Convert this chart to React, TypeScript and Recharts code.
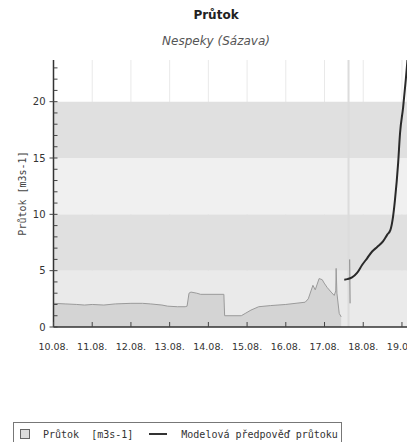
import React from 'react';
import {
  ComposedChart, Area, Line, XAxis, YAxis, CartesianGrid, ReferenceArea, ReferenceLine, Legend,
} from 'recharts';

// x = days since 10.08. 00:00
const flowX = [0, 0.3, 0.6, 0.8, 1.0, 1.3, 1.6, 2.0, 2.3, 2.5, 2.8, 2.95, 3.2, 3.4, 3.45, 3.5, 3.55, 3.7, 3.8, 4.4, 4.42, 4.85, 4.95, 5.1, 5.3, 5.6, 6.0, 6.5, 6.58, 6.65, 6.7, 6.76, 6.81, 6.86, 6.94, 6.99, 7.07, 7.17, 7.25, 7.29, 7.3, 7.32, 7.38, 7.43];
const flowY = [2.1, 2.05, 2.0, 1.95, 2.0, 1.95, 2.05, 2.1, 2.1, 2.05, 1.95, 1.85, 1.8, 1.8, 1.85, 3.0, 3.1, 3.0, 2.9, 2.9, 1.0, 1.0, 1.2, 1.5, 1.8, 1.9, 2.0, 2.2, 2.5, 3.2, 3.7, 3.3, 3.8, 4.3, 4.2, 3.9, 3.5, 3.1, 2.8, 3.2, 5.2, 3.0, 1.2, 0.9];

const modelX = [7.51, 7.59, 7.71, 7.84, 7.97, 8.1, 8.23, 8.36, 8.51, 8.62, 8.7, 8.77, 8.82, 8.9, 8.95, 9.03, 9.1, 9.15];
const modelY = [4.2, 4.25, 4.4, 4.8, 5.5, 6.1, 6.7, 7.1, 7.6, 8.2, 8.6, 9.8, 11.3, 14.5, 17.2, 19.5, 22, 24];

const spikeX = [7.65, 7.66];
const spikeY = [6.0, 2.1];

const dayTicks = [0, 1, 2, 3, 4, 5, 6, 7, 8, 9];
const dayLabels = ['10.08.', '11.08.', '12.08.', '13.08.', '14.08.', '15.08.', '16.08.', '17.08.', '18.08.', '19.08.'];
const yTicks = Array.from({ length: 24 }, (_, i) => i);
const bands = [
  { y1: 0, y2: 5, fill: '#eaeaea' },
  { y1: 5, y2: 10, fill: '#e0e0e0' },
  { y1: 10, y2: 15, fill: '#f0f0f0' },
  { y1: 15, y2: 20, fill: '#e0e0e0' },
];
const nowDay = 7.62;

const flowData = flowX.map((x, i) => ({ x, v: flowY[i] }));
const modelData = modelX.map((x, i) => ({ x, v: modelY[i] }));
const spikeData = spikeX.map((x, i) => ({ x, v: spikeY[i] }));

const YTick = (props: any) => {
  const { x, y, payload } = props;
  const major = payload.value % 5 === 0;
  return (
    <g>
      <line x1={major ? x - 4 : x} x2={x + 4} y1={y} y2={y} stroke="#444" strokeWidth={1} />
      {major && (
        <text x={x - 8} y={y} dy={3.5} textAnchor="end" fontSize={10} fill="#333" fontFamily="DejaVu Sans, sans-serif">
          {payload.value}
        </text>
      )}
    </g>
  );
};

const XTick = (props: any) => {
  const { x, y, payload } = props;
  return (
    <g>
      <line x1={x} x2={x} y1={y - 5} y2={y} stroke="#444" strokeWidth={1} />
      <text x={x} y={y + 23} textAnchor="middle" fontSize={9.5} fill="#333" fontFamily="DejaVu Sans, sans-serif">
        {dayLabels[payload.value]}
      </text>
    </g>
  );
};

const LegendBox = () => (
  <div
    style={{
      position: 'absolute', left: 13, top: 422, width: 329, height: 24,
      border: '1px solid #777', boxSizing: 'border-box', display: 'flex', alignItems: 'center',
      fontFamily: 'DejaVu Sans Mono, monospace', fontSize: 10, color: '#333', whiteSpace: 'pre',
    }}
  >
    <span style={{ display: 'inline-block', width: 8, height: 8, border: '1px solid #666', background: '#dcdcdc', marginLeft: 6, marginRight: 13 }} />
    <span>Průtok  [m3s-1]</span>
    <span style={{ display: 'inline-block', width: 18, height: 0, borderTop: '2px solid #333', marginLeft: 16, marginRight: 14 }} />
    <span>Modelová předpověď průtoku</span>
  </div>
);

export default function App() {
  return (
    <div style={{ position: 'absolute', left: 0, top: 0, width: 407, height: 442, background: '#fff', overflow: 'hidden' }}>
      <div style={{ position: 'absolute', left: 0, width: 432, top: 8, textAlign: 'center', fontFamily: 'DejaVu Sans, sans-serif', fontWeight: 'bold', fontSize: 12, color: '#222' }}>
        Průtok
      </div>
      <div style={{ position: 'absolute', left: 0, width: 432, top: 34, textAlign: 'center', fontFamily: 'DejaVu Sans, sans-serif', fontStyle: 'italic', fontSize: 12, color: '#555' }}>
        Nespeky (Sázava)
      </div>
      <ComposedChart width={407} height={442} margin={{ top: 60, right: 0, bottom: 95, left: 0 }} style={{ position: 'absolute', left: 0, top: 0 }}>
        {bands.map((b, i) => (
          <ReferenceArea key={i} y1={b.y1} y2={b.y2} fill={b.fill} fillOpacity={1} stroke="none" ifOverflow="hidden" />
        ))}
        <CartesianGrid horizontal={false} vertical stroke="#e9e9e9" strokeWidth={1} />
        <ReferenceLine x={nowDay} stroke="#dcdcdc" strokeWidth={2} />
        <XAxis
          type="number" dataKey="x" domain={[0, 9.13]} ticks={dayTicks} allowDataOverflow
          height={20} tick={<XTick />} tickLine={false} tickSize={0} tickMargin={0}
          axisLine={{ stroke: '#333', strokeWidth: 1.5 }} interval={0}
        />
        <YAxis
          type="number" domain={[0, 23.7]} ticks={yTicks} allowDataOverflow width={53.5}
          tick={<YTick />} tickLine={false} tickSize={0} tickMargin={0} interval={0}
          axisLine={{ stroke: '#333', strokeWidth: 1.5 }}
          label={{ value: 'Průtok [m3s-1]', angle: -90, position: 'insideLeft', offset: 22, style: { fontFamily: 'DejaVu Sans Mono, monospace', fontSize: 10, fill: '#444', textAnchor: 'middle' } }}
        />
        <Area data={flowData} dataKey="v" type="linear" name="Průtok [m3s-1]" fill="#d4d4d4" fillOpacity={1} stroke="#9a9a9a" strokeWidth={1} isAnimationActive={false} dot={false} />
        <Line data={spikeData} dataKey="v" type="linear" stroke="#888" strokeWidth={1} dot={false} isAnimationActive={false} legendType="none" />
        <Line data={modelData} dataKey="v" type="monotone" name="Modelová předpověď průtoku" stroke="#2a2a2a" strokeWidth={2} dot={false} isAnimationActive={false} />
        <Legend content={() => <LegendBox />} wrapperStyle={{ position: 'absolute', left: 0, top: 0, width: 0, height: 0 }} />
      </ComposedChart>
    </div>
  );
}
